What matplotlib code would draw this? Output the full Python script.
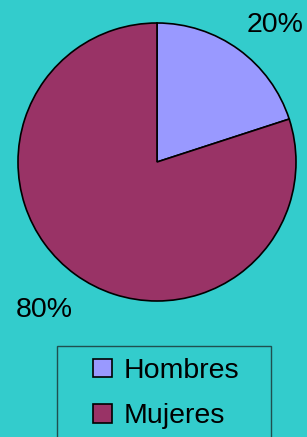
import matplotlib
matplotlib.use("Agg")
import matplotlib.pyplot as plt
from matplotlib.patches import Rectangle

categories = ["Hombres", "Mujeres"]
values = [20, 80]
colors = ["#9999FF", "#993366"]
bg = "#33CCCC"

plt.rcParams['font.family'] = ['Liberation Sans', 'DejaVu Sans']

W, H = 307, 437
fig = plt.figure(figsize=(W / 100, H / 100), dpi=100, facecolor=bg)
ax = fig.add_axes([0, 0, 1, 1])

wedges, texts, autotexts = ax.pie(
    values, colors=colors, startangle=90, counterclock=False,
    center=(157, 275), radius=139, autopct='%1.0f%%', pctdistance=1.32,
    wedgeprops=dict(edgecolor='black', linewidth=1.2),
    textprops=dict(fontsize=20.5, color='black'))

# label anchor positions (pixel coords, y up)
label_pos = [(275, 437 - 22), (44, 437 - 307)]
for t, p in zip(autotexts, label_pos):
    t.set_position(p)
    t.set_ha('center')
    t.set_va('center_baseline')

ax.set_xlim(0, W)
ax.set_ylim(0, H)
ax.set_aspect('equal')
ax.axis('off')

ax.add_patch(Rectangle((57, -5), 214, 96, facecolor='none',
                       edgecolor='#1f4f4f', linewidth=1.0))

leg = ax.legend(wedges, categories, loc='upper left',
                bbox_to_anchor=(93 / W, 79 / H), bbox_transform=fig.transFigure,
                frameon=False, fontsize=20.5, borderpad=0, borderaxespad=0,
                handlelength=0.66, handleheight=0.63, handletextpad=0.42,
                labelspacing=0.68)
for h in leg.legend_handles:
    h.set_edgecolor('black')
    h.set_linewidth(1.2)

fig.savefig("out.png", dpi=100, facecolor=bg)
